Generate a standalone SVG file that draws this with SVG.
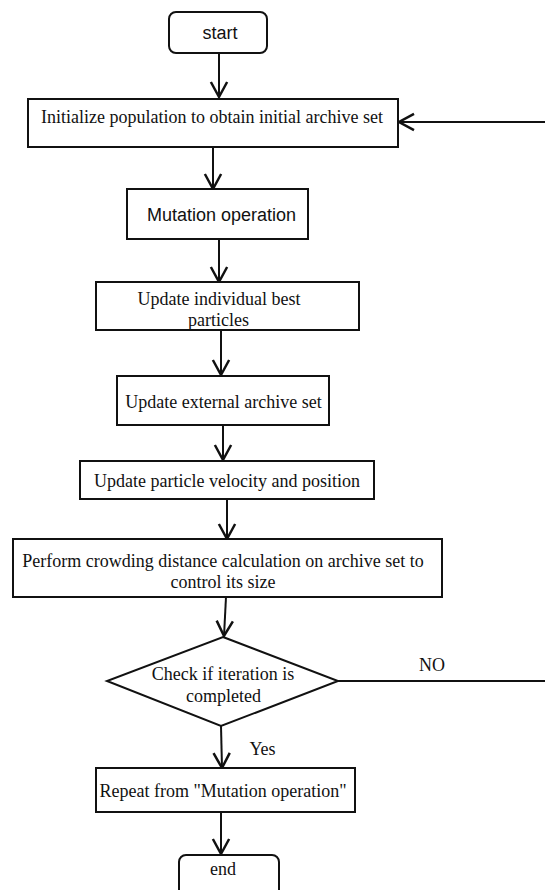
<svg xmlns="http://www.w3.org/2000/svg" width="545" height="890" viewBox="0 0 545 890">
  <style>
    .box { fill: #ffffff; stroke: #111111; stroke-width: 2; }
    .edge { fill: none; stroke: #111111; stroke-width: 2; }
    .serif { font-family: "Liberation Serif", "Times New Roman", serif; font-size: 18px; fill: #111111; }
    .sans { font-family: "Liberation Sans", Arial, sans-serif; font-size: 18px; fill: #111111; }
  </style>
  <defs>
    <marker id="open-arrow" markerUnits="userSpaceOnUse" markerWidth="20" markerHeight="20" viewBox="-14 -8 16 16" refX="0" refY="0" orient="auto" overflow="visible">
      <path d="M -12 -6.5 L 0 0 L -12 6.5" fill="none" stroke="#111111" stroke-width="2"/>
    </marker>
  </defs>
  <rect width="545" height="890" fill="#ffffff"/>

  <g id="connectors">
    <line class="edge" x1="219" y1="53" x2="219" y2="97" marker-end="url(#open-arrow)"/>
    <line class="edge" x1="213" y1="147" x2="213" y2="189" marker-end="url(#open-arrow)"/>
    <line class="edge" x1="219" y1="239" x2="219" y2="282" marker-end="url(#open-arrow)"/>
    <line class="edge" x1="221" y1="330" x2="221" y2="375" marker-end="url(#open-arrow)"/>
    <line class="edge" x1="223" y1="425" x2="223" y2="460" marker-end="url(#open-arrow)"/>
    <line class="edge" x1="227" y1="499" x2="227" y2="539" marker-end="url(#open-arrow)"/>
    <line class="edge" x1="226" y1="597" x2="224" y2="636" marker-end="url(#open-arrow)"/>
    <line class="edge" x1="221" y1="726" x2="222" y2="768" marker-end="url(#open-arrow)"/>
    <line class="edge" x1="221" y1="812" x2="221" y2="854" marker-end="url(#open-arrow)"/>
    <!-- loop back: "NO" branch leaves the decision to the right, returns into the init step -->
    <line class="edge" x1="338" y1="681" x2="546" y2="681"/>
    <line class="edge" x1="546" y1="122" x2="399" y2="122" marker-end="url(#open-arrow)"/>
    <text class="serif" x="432" y="671" text-anchor="middle">NO</text>
    <text class="serif" x="262.5" y="755" text-anchor="middle">Yes</text>
  </g>

  <g id="start">
    <rect class="box" x="169" y="12" width="98" height="41" rx="7"/>
    <text class="sans" x="220" y="39" text-anchor="middle">start</text>
  </g>

  <g id="init">
    <rect class="box" x="28" y="99" width="370" height="48"/>
    <text class="serif" x="212" y="123" text-anchor="middle">Initialize population to obtain initial archive set</text>
  </g>

  <g id="mutation">
    <rect class="box" x="127" y="189" width="181" height="50"/>
    <text class="sans" x="221.5" y="221" text-anchor="middle">Mutation operation</text>
  </g>

  <g id="update-pbest">
    <rect class="box" x="96" y="282" width="263" height="48"/>
    <text class="serif" x="219" y="305" text-anchor="middle">Update individual best</text>
    <text class="serif" x="218.5" y="326" text-anchor="middle">particles</text>
  </g>

  <g id="update-archive">
    <rect class="box" x="117" y="376" width="212" height="49"/>
    <text class="serif" x="223.5" y="408" text-anchor="middle">Update external archive set</text>
  </g>

  <g id="update-velocity">
    <rect class="box" x="80" y="461" width="294" height="38"/>
    <text class="serif" x="227" y="487" text-anchor="middle">Update particle velocity and position</text>
  </g>

  <g id="crowding">
    <rect class="box" x="13" y="539" width="429" height="58"/>
    <text class="serif" x="223" y="567" text-anchor="middle">Perform crowding distance calculation on archive set to</text>
    <text class="serif" x="223" y="588" text-anchor="middle">control its size</text>
  </g>

  <g id="check">
    <polygon class="box" points="223,637 338,681 221,726 107,681"/>
    <text class="serif" x="223" y="680" text-anchor="middle">Check if iteration is</text>
    <text class="serif" x="223.5" y="702" text-anchor="middle">completed</text>
  </g>

  <g id="repeat">
    <rect class="box" x="96" y="768" width="259" height="44"/>
    <text class="serif" x="223" y="797" text-anchor="middle">Repeat from "Mutation operation"</text>
  </g>

  <g id="end">
    <rect class="box" x="179" y="855" width="100" height="50" rx="7"/>
    <text class="serif" x="223" y="875" text-anchor="middle">end</text>
  </g>
</svg>
